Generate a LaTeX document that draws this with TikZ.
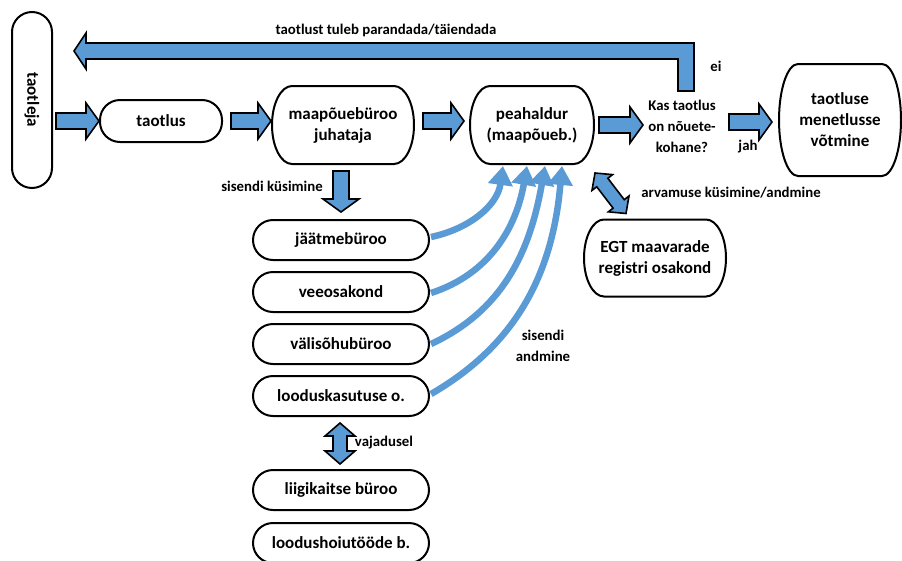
\documentclass[tikz,border=0pt]{standalone}
\usepackage{fontspec}
\setmainfont{Carlito}
\usetikzlibrary{arrows.meta,calc,positioning}

\definecolor{flowblue}{RGB}{91,155,213}

\tikzset{
  shaftw/.store in=\shaftw, headw/.store in=\headw, headl/.store in=\headl,
  shaftw=8, headw=18, headl=13,
  fatline/.style={draw=black, line width=1.6pt, fill=flowblue, line join=miter},
  fatarrow/.style={fatline,
    to path={let \p1=(\tikztostart), \p2=(\tikztotarget),
      \n1={atan2(\y2-\y1,\x2-\x1)}, \n2={veclen(\x2-\x1,\y2-\y1)} in
      ($(\p1)+(\n1+90:\shaftw)$)
      -- ($(\p1)+(\n1:\n2-\headl)+(\n1+90:\shaftw)$)
      -- ($(\p1)+(\n1:\n2-\headl)+(\n1+90:\headw)$)
      -- (\p2)
      -- ($(\p1)+(\n1:\n2-\headl)+(\n1-90:\headw)$)
      -- ($(\p1)+(\n1:\n2-\headl)+(\n1-90:\shaftw)$)
      -- ($(\p1)+(\n1-90:\shaftw)$) -- cycle}},
  fatdouble/.style={fatline,
    to path={let \p1=(\tikztostart), \p2=(\tikztotarget),
      \n1={atan2(\y2-\y1,\x2-\x1)}, \n2={veclen(\x2-\x1,\y2-\y1)} in
      (\p1)
      -- ($(\p1)+(\n1:\headl)+(\n1+90:\headw)$)
      -- ($(\p1)+(\n1:\headl)+(\n1+90:\shaftw)$)
      -- ($(\p1)+(\n1:\n2-\headl)+(\n1+90:\shaftw)$)
      -- ($(\p1)+(\n1:\n2-\headl)+(\n1+90:\headw)$)
      -- (\p2)
      -- ($(\p1)+(\n1:\n2-\headl)+(\n1-90:\headw)$)
      -- ($(\p1)+(\n1:\n2-\headl)+(\n1-90:\shaftw)$)
      -- ($(\p1)+(\n1:\headl)+(\n1-90:\shaftw)$)
      -- ($(\p1)+(\n1:\headl)+(\n1-90:\headw)$)
      -- cycle}}
}

% outline with elliptic ends round a node
\newcommand\pillframe[2][20]{%
  \draw[line width=2pt] let \p1=(#2.north), \p2=(#2.south), \n1={(\y1-\y2)/2} in
    ($(#2.north west)+(#1,0)$) -- ($(#2.north east)+(-#1,0)$)
    arc[start angle=90, end angle=-90, x radius=#1pt, y radius=\n1]
    -- ($(#2.south west)+(#1,0)$)
    arc[start angle=270, end angle=90, x radius=#1pt, y radius=\n1] -- cycle;}

\begin{document}
\begin{tikzpicture}[
    x = 1pt, y = 1pt, % pixel grid
    sisend/.style = {draw=flowblue, line width=6.5pt,
      -{Triangle[width=24pt,length=19pt]}}, % thin blue arrows
    lbl/.style = {font=\fontsize{14.8}{21}\selectfont\bfseries,
      inner sep=0pt, align=center}
    ]

    \tikzset{
    box/.style={draw = black, line width = 2pt, fill = white,
      rounded corners = 20pt, align = center, inner sep = 2pt,
      font = \fontsize{17}{21}\selectfont\bfseries},
    bigbox/.style={box, draw = none},
    unit/.style={box, minimum width = 176pt, minimum height = 40pt}
    }
    \useasboundingbox (0,0) rectangle (902,-560);

    % main row
    \node[box, minimum width=40pt, minimum height=176pt] (taotleja) at (32,-100) {\rotatebox{-90}{taotleja}};
    \node[box, minimum width=122pt, minimum height=42pt] (taotlus) at (161,-121) {taotlus};
    \node[bigbox, minimum width=140pt, minimum height=76pt] (juhataja) at (343,-125) {maapõuebüroo\\juhataja};
    \node[bigbox, minimum width=122pt, minimum height=76pt] (peahaldur) at (532,-125) {peahaldur\\(maapõueb.)};
    \node[lbl] (kontroll) at (682,-126) {Kas taotlus\\on nõuete-\\kohane?};
    \node[bigbox, minimum width=120pt, minimum height=110pt] (menetlus) at (840,-120) {taotluse\\menetlusse\\võtmine};
    \node[bigbox, minimum width=140pt, minimum height=75pt] (egt) at (655,-258) {EGT maavarade\\registri osakond};
    \pillframe{juhataja}
    \pillframe{peahaldur}
    \pillframe[19]{menetlus}
    \pillframe{egt}

    % offices
    \node[unit] (jaatme) at (341,-240) {jäätmebüroo};
    \node[unit] (vee) [below=10pt of jaatme] {veeosakond};
    \node[unit] (valis) [below=10pt of vee] {välisõhubüroo};
    \node[unit] (looduskas) [below=10pt of valis] {looduskasutuse o.};
    \node[unit] (liigi) [below=52pt of looduskas] {liigikaitse büroo};
    \node[unit] (hoiu) [below=11pt of liigi] {loodushoiutööde b.};

    % fat arrows
    \draw[fatarrow] ($(taotleja.east |- taotlus.west)+(3,0)$) to (taotlus.west);
    \draw[fatarrow] ($(taotlus.east)+(8,0)$) to ($(juhataja.west |- taotlus.east)+(-1,0)$);
    \draw[fatarrow] ($(juhataja.east)+(9,4)$) to ($(peahaldur.west)+(-6,4)$);
    \draw[fatarrow] ($(peahaldur.east)+(5,0)$) to ($(peahaldur.east)+(49,0)$);
    \draw[fatarrow] ($(menetlus.west)+(-50,-2)$) to ($(menetlus.west)+(-7,-2)$);
    \draw[fatarrow] ($(juhataja.south)+(-2,-7)$) to ($(jaatme.north)+(0,7)$);
    \draw[fatdouble, shaftw=7, headw=13, headl=12] ($(peahaldur.south east)+(1,-9)$) to ($(egt.north)+(-29,6)$);
    \draw[fatdouble, shaftw=7, headw=15, headl=13] ($(looduskas.south)+(-1,-6)$) to ($(liigi.north)+(-1,5)$);

    % back to applicant
    \coordinate (back) at (686,-91);
    \coordinate (backtip) at ($(taotleja.north east)+(21,-40)$);
    \draw[fatline] ($(back)+(-8,0)$) -- ($(back |- backtip)+(-8,-8)$)
      -- ($(backtip)+(12,-8)$) -- ($(backtip)+(12,-18)$) -- (backtip)
      -- ($(backtip)+(12,18)$) -- ($(backtip)+(12,8)$)
      -- ($(back |- backtip)+(8,8)$) -- ($(back)+(8,0)$) -- cycle;

    % inputs
    \draw[sisend] ($(jaatme.east)+(1,3)$) to[out=12, in=-98] ($(peahaldur.south)+(-29,-2)$);
    \draw[sisend] ($(vee.east)+(1,-1)$) to[out=18, in=-100] ($(peahaldur.south)+(-5,-2)$);
    \draw[sisend] ($(valis.east)+(1,0)$) to[out=25, in=-100] ($(peahaldur.south)+(13,-2)$);
    \draw[sisend] ($(looduskas.east)+(1,2)$) to[out=30, in=-95] ($(peahaldur.south)+(30,-2)$);

    % labels
    \node[lbl] (parandus) at (386,-30) {taotlust tuleb parandada/täiendada};
    \node[lbl] (ei) at (716,-66) {ei};
    \node[lbl] (jah) at (748,-147) {jah};
    \node[lbl] (kysimine) at (272,-186) {sisendi küsimine};
    \node[lbl] (andmine) at (543,-346) {sisendi\\andmine};
    \node[lbl] (arvamus) at (731,-193) {arvamuse küsimine/andmine};
    \node[lbl] (vajadusel) at (384,-443) {vajadusel};
\end{tikzpicture}
\end{document}
